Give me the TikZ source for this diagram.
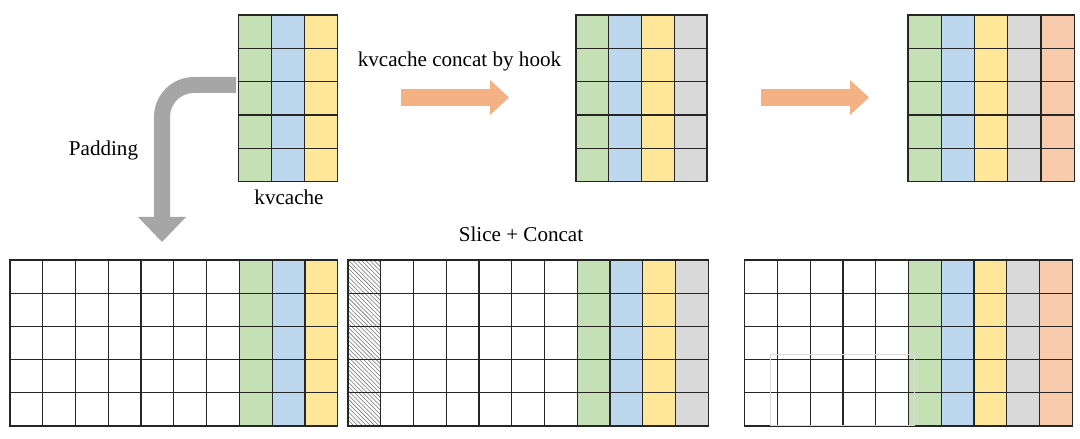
\documentclass[tikz,border=0pt]{standalone}
\usepackage{fontspec}
\setmainfont{Liberation Serif}
\usepackage{tikz}
\usetikzlibrary{arrows.meta,patterns,positioning}
\definecolor{kvgreen}{HTML}{C5E0B4}
\definecolor{kvblue}{HTML}{BDD7EE}
\definecolor{kvyellow}{HTML}{FFE699}
\definecolor{kvgray}{HTML}{D9D9D9}
\definecolor{kvpeach}{HTML}{F8CBAD}
\definecolor{arroworange}{HTML}{F4B183}
\definecolor{arrowgray}{HTML}{A6A6A6}
\definecolor{gridline}{HTML}{262626}
\tikzset{
  every node/.style={
    font=\fontsize{15}{18}\selectfont
  },
  cell/.style={
    draw=gridline,
    line width=0.9pt
  },
  padcell/.style={
    cell,
    pattern=north west lines,
    pattern color=black!55
  },
  orangearrow/.style={
    draw=arroworange,
    line width=0.425cm,
    -{Triangle[length=0.475cm,width=0.875cm,line width=0pt]}
  },
  padarrow/.style={
    draw=arrowgray,
    line width=0.4cm,
    rounded corners=0.8cm,
    -{Triangle[length=0.625cm,width=1.2cm,line width=0pt]}
  },
  lbl/.style={
    anchor=base,
    inner sep=0pt
  }
}

\begin{document}
\begin{tikzpicture}[x=0.025cm,y=-0.025cm]
  \useasboundingbox (0,0) rectangle (1080,439);
  % top row
  \foreach \c [count=\i from 0] in {kvgreen,kvblue,kvyellow}
    \foreach \r in {0,...,4}
      \draw[cell,fill=\c] (238.3+\i*33.1,15+\r*33.3) rectangle ++(33.1,33.3);
  \foreach \c [count=\i from 0] in {kvgreen,kvblue,kvyellow,kvgray}
    \foreach \r in {0,...,4}
      \draw[cell,fill=\c] (576+\i*32.75,15+\r*33.3) rectangle ++(32.75,33.3);
  \foreach \c [count=\i from 0] in {kvgreen,kvblue,kvyellow,kvgray,kvpeach}
    \foreach \r in {0,...,4}
      \draw[cell,fill=\c] (908+\i*33.25,15+\r*33.3) rectangle ++(33.25,33.3);
  % bottom row
  \foreach \c [count=\i from 0] in {white,white,white,white,white,white,white,kvgreen,kvblue,kvyellow}
    \foreach \r in {0,...,4}
      \draw[cell,fill=\c] (10+\i*32.77,260+\r*33.2) rectangle ++(32.77,33.2);
  \foreach \r in {0,...,4}
    \draw[padcell] (348,260+\r*33.2) rectangle ++(32.75,33.2);
  \foreach \c [count=\i from 1] in {white,white,white,white,white,white,kvgreen,kvblue,kvyellow,kvgray}
    \foreach \r in {0,...,4}
      \draw[cell,fill=\c] (348+\i*32.75,260+\r*33.2) rectangle ++(32.75,33.2);
  \foreach \c [count=\i from 0] in {white,white,white,white,white,kvgreen,kvblue,kvyellow,kvgray,kvpeach}
    \foreach \r in {0,...,4}
      \draw[cell,fill=\c] (744.7+\i*32.76,260+\r*33.2) rectangle ++(32.76,33.2);
  \draw[black!15,line width=0.5pt] (770,354.3) rectangle (914.3,425);

  % labels
  \node[lbl] (kvlabel) at (289,205) {kvcache};
  \node[lbl] (hooklabel) at (459.5,67) {kvcache concat by hook};
  \node[lbl] (padlabel) at (103.5,156) {Padding};
  \node[lbl] (slicelabel) at (521,242) {Slice + Concat};

  % arrows
  \coordinate (padstart) at (236,85);
  \coordinate (padbend) at (162,85);
  \coordinate (padend) at (162,242);
  \draw[padarrow] (padstart) -- (padbend) -- (padend);
  \coordinate (hookstart) at (401,97.5);
  \coordinate (hookend) at (509,97.5);
  \draw[orangearrow] (hookstart) -- (hookend);
  \coordinate (nextstart) at (761,97.5);
  \coordinate (nextend) at (869,97.5);
  \draw[orangearrow] (nextstart) -- (nextend);
\end{tikzpicture}
\end{document}
